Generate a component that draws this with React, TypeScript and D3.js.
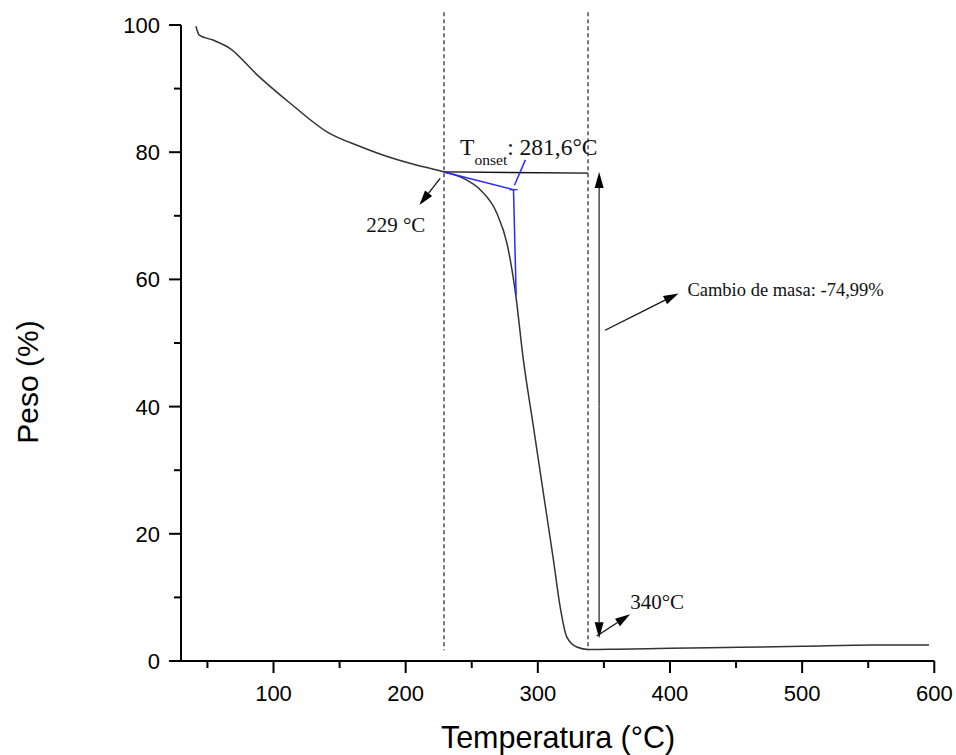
import React from "react";
import * as d3 from "d3";

// Curve data: temperature (°C) vs mass (%)
const temperatura = [41.3, 43.8, 54.6, 67.2, 87.4, 112.6, 140.4, 165.6, 190.8, 213.5, 229, 243.7, 256.4, 269, 276.6, 282.8, 289.1, 296.7, 304.2, 311.8, 316.9, 321.9, 329.5, 338.3, 360, 400, 453, 500, 554, 596];
const peso = [99.8, 98.4, 97.6, 96.3, 92.2, 87.7, 83.2, 80.9, 79.0, 77.7, 76.9, 75.9, 74.1, 70.4, 65.7, 58.3, 47.3, 36.8, 26.4, 15.9, 8.5, 3.8, 2.2, 1.8, 1.85, 2.0, 2.15, 2.3, 2.5, 2.5];

const xMajorTicks = [100, 200, 300, 400, 500, 600];
const xMinorTicks = [50, 150, 250, 350, 450, 550];
const yMajorTicks = [0, 20, 40, 60, 80, 100];
const yMinorTicks = [10, 30, 50, 70, 90];

const dashedLinesX = [229, 338];
// onset construction
const baselineSeg = [[229, 76.9], [338, 76.7]];
const onsetTangent = [[229, 76.9], [281.6, 74.1]];
const onsetVertical = [[281.6, 74.1], [283.6, 57.5]];
const onsetLeader = [[282.3, 74.8], [290.6, 78.8]];

const W = 956, H = 755;
const x = d3.scaleLinear().domain([30, 600]).range([181, 934.3]);
const y = d3.scaleLinear().domain([0, 100]).range([661, 25]);

const serif = "'Liberation Serif', 'Times New Roman', serif";
const sans = "'Liberation Sans', Arial, sans-serif";

function Arrow({ x1, y1, x2, y2, color = "#111", width = 1.3, head = 15, hw = 4.5 }) {
  const dx = x2 - x1, dy = y2 - y1;
  const len = Math.hypot(dx, dy);
  const ux = dx / len, uy = dy / len;
  const bx = x2 - ux * head, by = y2 - uy * head;
  const px = -uy * hw, py = ux * hw;
  return (
    <g>
      <line x1={x1} y1={y1} x2={bx} y2={by} stroke={color} strokeWidth={width} />
      <polygon points={`${x2},${y2} ${bx + px},${by + py} ${bx - px},${by - py}`} fill="#000" />
    </g>
  );
}

export default function App() {
  const pts = temperatura.map((t, i) => [t, peso[i]]);
  const line = d3.line().x((d) => x(d[0])).y((d) => y(d[1])).curve(d3.curveMonotoneX);
  const seg = d3.line().x((d) => x(d[0])).y((d) => y(d[1]));

  const dblX = x(346.4);
  return (
    <svg width={W} height={H} style={{ position: "absolute", left: 0, top: 0, background: "#fff" }}>
      <rect width={W} height={H} fill="#fff" />
      {/* dashed reference lines */}
      {dashedLinesX.map((v) => (
        <line key={v} x1={x(v)} x2={x(v)} y1={y(102)} y2={y(1.7)} stroke="#333" strokeWidth={1.3} strokeDasharray="4,3" />
      ))}
      {/* main curve */}
      <path d={line(pts)} fill="none" stroke="#333" strokeWidth={1.5} />
      {/* onset construction */}
      <path d={seg(baselineSeg)} fill="none" stroke="#111" strokeWidth={1.3} />
      <path d={seg(onsetTangent)} fill="none" stroke="#2a2aff" strokeWidth={1.5} />
      <path d={seg(onsetVertical)} fill="none" stroke="#2a2aff" strokeWidth={1.5} />
      <path d={seg(onsetLeader)} fill="none" stroke="#2a2aff" strokeWidth={1.5} />
      <line x1={x(281.6) - 4} x2={x(281.6) + 4} y1={y(74.1)} y2={y(74.1)} stroke="#2a2aff" strokeWidth={1.3} />

      {/* axes */}
      <line x1={x(30)} x2={x(600)} y1={y(0)} y2={y(0)} stroke="#000" strokeWidth={2} />
      <line x1={x(30)} x2={x(30)} y1={y(0)} y2={y(100)} stroke="#000" strokeWidth={2} />
      {xMajorTicks.map((t) => (
        <g key={"xm" + t}>
          <line x1={x(t)} x2={x(t)} y1={y(0)} y2={y(0) + 12} stroke="#000" strokeWidth={2} />
          <text x={x(t)} y={701} textAnchor="middle" fontFamily={sans} fontSize={22} fill="#000">{t}</text>
        </g>
      ))}
      {xMinorTicks.map((t) => (
        <line key={"xn" + t} x1={x(t)} x2={x(t)} y1={y(0)} y2={y(0) + 7} stroke="#000" strokeWidth={2} />
      ))}
      {yMajorTicks.map((t) => (
        <g key={"ym" + t}>
          <line x1={x(30)} x2={x(30) - 12} y1={y(t)} y2={y(t)} stroke="#000" strokeWidth={2} />
          <text x={160} y={y(t)} dy="0.36em" textAnchor="end" fontFamily={sans} fontSize={22} fill="#000">{t}</text>
        </g>
      ))}
      {yMinorTicks.map((t) => (
        <line key={"yn" + t} x1={x(30)} x2={x(30) - 7} y1={y(t)} y2={y(t)} stroke="#000" strokeWidth={2} />
      ))}
      <text x={558} y={748} textAnchor="middle" fontFamily={sans} fontSize={30.5} fill="#000">Temperatura (°C)</text>
      <text transform={`translate(38,382) rotate(-90)`} textAnchor="middle" fontFamily={sans} fontSize={30} fill="#000">Peso (%)</text>

      {/* annotations */}
      <text x={x(241.2)} y={y(79.6)} fontFamily={serif} fontSize={23.5} fill="#111">
        T<tspan fontSize={15.5} dy={10}>onset</tspan><tspan dy={-10}>: 281,6°C</tspan>
      </text>
      <Arrow x1={x(226.1)} y1={y(75.9)} x2={x(210.4)} y2={y(71.7)} />
      <text x={x(170.1)} y={y(67.5)} fontFamily={serif} fontSize={21} fill="#111">229 °C</text>

      <Arrow x1={dblX} y1={y(40)} x2={dblX} y2={y(76.9)} color="#555" width={1.6} hw={4.5} head={16} />
      <Arrow x1={dblX} y1={y(40)} x2={dblX} y2={y(3.57)} color="#555" width={1.6} hw={4.5} head={16} />

      <Arrow x1={x(350.9)} y1={y(52.0)} x2={x(406.4)} y2={y(57.8)} />
      <text x={x(413.2)} y={y(57.4)} fontFamily={serif} fontSize={18.5} fill="#111">Cambio de masa: -74,99%</text>

      <Arrow x1={x(344.6)} y1={y(3.93)} x2={x(369.8)} y2={y(7.34)} />
      <text x={x(369.9)} y={y(8.13)} fontFamily={serif} fontSize={21} fill="#111">340°C</text>
    </svg>
  );
}
